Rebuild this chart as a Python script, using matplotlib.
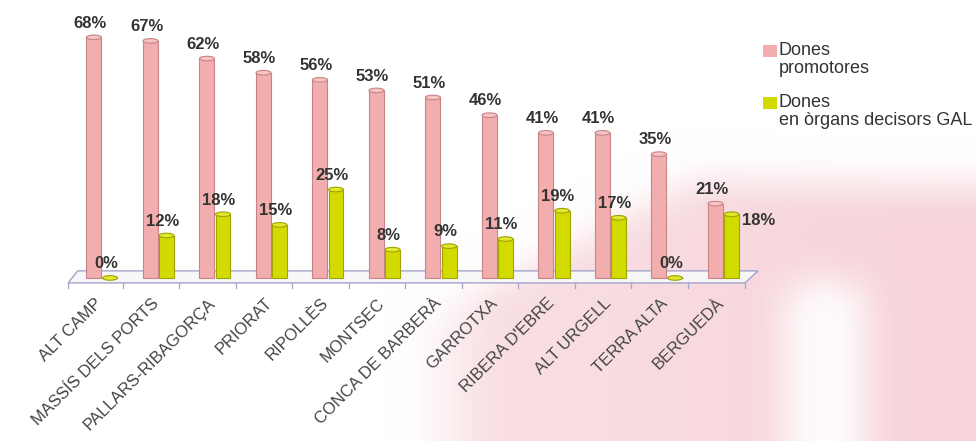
import numpy as np
import matplotlib.pyplot as plt
from matplotlib.patches import Ellipse, Polygon, Rectangle

plt.rcParams['font.family'] = ['Liberation Sans', 'DejaVu Sans']

comarques = ['ALT CAMP', 'MASSÍS DELS PORTS', 'PALLARS-RIBAGORÇA', 'PRIORAT', 'RIPOLLÈS',
             'MONTSEC', 'CONCA DE BARBERÀ', 'GARROTXA', "RIBERA D'EBRE", 'ALT URGELL',
             'TERRA ALTA', 'BERGUEDÀ']
promotores = [68, 67, 62, 58, 56, 53, 51, 46, 41, 41, 35, 21]
decisors = [0, 12, 18, 15, 25, 8, 9, 11, 19, 17, 0, 18]
series = ['Dones\npromotores', 'Dones\nen òrgans decisors GAL']

pink, pink_edge = '#f2adae', '#c98487'
green, green_edge = '#d2da00', '#9ea400'
txt = '#333333'

W, H = 976, 441
fig = plt.figure(figsize=(W / 100, H / 100), dpi=100)


def blur(a, n=31):
    k = np.ones(n) / n
    p = n // 2
    a = np.pad(a, p, mode='edge')
    a = np.apply_along_axis(lambda r: np.convolve(r, k, mode='same'), 1, a)
    a = np.apply_along_axis(lambda c: np.convolve(c, k, mode='same'), 0, a)
    return a[p:-p, p:-p]


# soft pink watermark in the background
yy, xx = np.mgrid[0:H, 0:W].astype(float)
top = np.where(xx < 700, 300 - (xx - 420) * 0.5, 160 + (xx - 700) * 0.02)
mask = np.clip((yy - top) / 40, 0, 1) * np.clip((xx - 410) / 80, 0, 1)
stripe = np.clip((yy - 265) / 40, 0, 1) * np.clip(1 - np.abs(xx - 825) / 60, 0, 1)
mask = mask * (1 - 0.9 * np.clip(stripe * 1.6, 0, 1))
mask = mask * (0.7 + 0.3 * np.clip((xx - 420) / 500, 0, 1))
mask = blur(blur(mask))
tint = np.array([246, 212, 218]) / 255
img = 1 - mask[..., None] * (1 - tint)
bg = fig.add_axes([0, 0, 1, 1], zorder=0)
bg.imshow(img, aspect='auto', extent=(0, W, H, 0))
bg.axis('off')

ax = fig.add_axes([60 / W, 1 - 290 / H, 700 / W, 270 / H], zorder=1)
ax.set_facecolor('none')
ax.set_xlim(-0.743, 11.646)
ax.set_ylim(-3.4, 72.9)

x = np.arange(len(comarques))
off, bw = 0.142, 0.265

# floor of the pseudo-3D plot
floor = Polygon([(-0.60, -1.4), (11.38, -1.4), (11.61, 2.0), (-0.43, 2.0)],
                closed=True, facecolor='#f7f7fa', edgecolor='#a4a4c8', lw=1.0, zorder=1)
ax.add_patch(floor)
for t in list(np.arange(0.37, 11.0, 1.0)) + [-0.60, 11.38]:
    ax.plot([t, t], [-1.4, -2.8], color='#a4a4c8', lw=0.9, zorder=1)

ax.bar(x - off, promotores, bw, color=pink, edgecolor=pink_edge, lw=0.8, zorder=3)
ax.bar(x + off, decisors, bw, color=green, edgecolor=green_edge, lw=0.8, zorder=3)
for xi, p, d in zip(x, promotores, decisors):
    ax.add_patch(Ellipse((xi - off, p), bw, 1.3, facecolor='#f6c4c4', edgecolor=pink_edge, lw=0.8, zorder=4))
    ax.add_patch(Ellipse((xi + off, d), bw, 1.3, facecolor='#e2e830', edgecolor=green_edge, lw=0.8, zorder=4))

for i, (p, d) in enumerate(zip(promotores, decisors)):
    ax.text(i - off - 0.07, p + 1.9, f'{p}%', ha='center', va='bottom',
            fontsize=12, fontweight='bold', color=txt, zorder=5)
    if i == len(comarques) - 1:
        ax.text(i + off + 0.18, d + 0.3, f'{d}%', ha='left', va='top',
                fontsize=12, fontweight='bold', color=txt, zorder=5)
    else:
        ax.text(i + off - 0.07, d + 1.9, f'{d}%', ha='center', va='bottom',
                fontsize=12, fontweight='bold', color=txt, zorder=5)

ax.set_xticks(x - 0.13)
ax.set_xticklabels(comarques, rotation=45, ha='right', rotation_mode='anchor',
                   fontsize=12, color='#444444')
ax.tick_params(axis='x', length=0, pad=4)
ax.set_yticks([])
for s in ax.spines.values():
    s.set_visible(False)

# legend
for k, (lab, col) in enumerate(zip(series, [pink, green])):
    ytop = 45 + 52 * k
    fig.patches.append(Rectangle((763 / W, 1 - (ytop + 12) / H), 14 / W, 12 / H,
                                 transform=fig.transFigure, facecolor=col, edgecolor='none'))
    fig.text(779 / W, 1 - (ytop - 3) / H, lab, ha='left', va='top', fontsize=13,
             color=txt, linespacing=1.05)

fig.savefig('out.png', dpi=100)
